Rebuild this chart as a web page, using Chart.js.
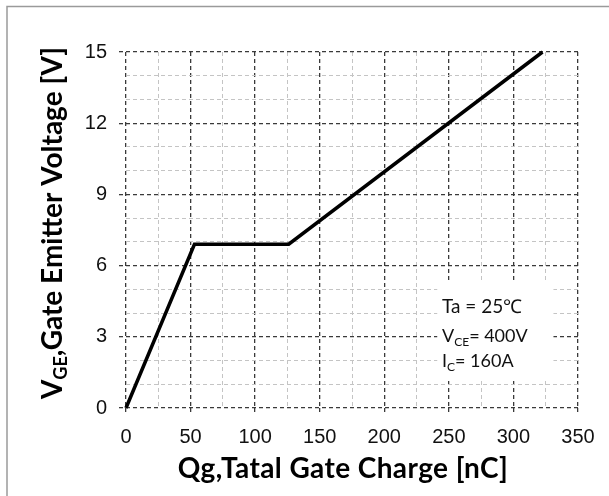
<!DOCTYPE html>
<html>
<head>
<meta charset="utf-8">
<script src="https://cdn.jsdelivr.net/npm/chart.js@4"></script>
<style>
html,body{margin:0;padding:0;background:#fff;}
#wrap{position:relative;width:609px;height:496px;}
</style>
</head>
<body>
<div id="wrap"><canvas id="c" width="609" height="496"></canvas></div>
<script>
// Gate charge curve (nC, V)
const chargeNC = [0, 53, 126, 322.5];
const gateVoltage = [0, 6.9, 6.9, 15];
const xTickLabels = [0, 50, 100, 150, 200, 250, 300, 350];
const yTickLabels = [0, 3, 6, 9, 12, 15];
const conditions = ["Ta = 25\u2103", "V|CE|= 400V", "I|C|= 160A"];
const xTitle = "Qg,Tatal Gate Charge [nC]";
const yTitleParts = ["V", "GE", ",Gate Emitter Voltage [V]"];

const points = chargeNC.map((x, i) => ({x: x, y: gateVoltage[i]}));

const titleFont = "bold 28px Lato";
const tickFont = {family: "'Liberation Sans', Arial", size: 20};

const decor = {
  id: 'decor',
  beforeDraw(chart) {
    const ctx = chart.ctx;
    ctx.save();
    ctx.fillStyle = '#fff';
    ctx.fillRect(0, 0, chart.width, chart.height);
    ctx.strokeStyle = '#9a9a9a';
    ctx.lineWidth = 1.5;
    ctx.beginPath();
    ctx.moveTo(7, chart.height);
    ctx.lineTo(7, 6.5);
    ctx.lineTo(chart.width, 6.5);
    ctx.stroke();
    ctx.restore();
  },
  beforeDatasetsDraw(chart) {
    const ctx = chart.ctx;
    const xs = chart.scales.x, ys = chart.scales.y;
    // white box behind conditions
    const bx0 = xs.getPixelForValue(241), bx1 = xs.getPixelForValue(331);
    const by0 = ys.getPixelForValue(5.3), by1 = ys.getPixelForValue(1.2);
    ctx.save();
    ctx.fillStyle = '#fff';
    ctx.fillRect(bx0, by0, bx1 - bx0, by1 - by0);
    ctx.restore();
  },
  afterDraw(chart) {
    const ctx = chart.ctx;
    const ys = chart.scales.y;
    ctx.save();
    ctx.fillStyle = '#111';
    // conditions text
    const mainF = "18px Lato", subF = "12px Lato";
    const lx = 442;
    const baselines = [313, 342, 367];
    ctx.textBaseline = 'alphabetic';
    ctx.textAlign = 'left';
    conditions.forEach((s, i) => {
      const parts = s.split('|');
      let x = lx;
      parts.forEach((p, j) => {
        const sub = j % 2 === 1;
        ctx.font = (i === 0) ? "19px Lato" : (sub ? subF : mainF);
        ctx.fillText(p, x, baselines[i] + (sub ? 4 : 0));
        x += ctx.measureText(p).width;
      });
    });
    // x title
    ctx.font = titleFont;
    ctx.letterSpacing = '0.4px';
    ctx.textAlign = 'center';
    ctx.fillStyle = '#000';
    ctx.fillText(xTitle, 343, 478);
    ctx.letterSpacing = '0px';
    // y title rotated with subscript
    ctx.save();
    ctx.translate(62, (ys.top + ys.bottom) / 2 - 7);
    ctx.rotate(-Math.PI / 2);
    ctx.textAlign = 'left';
    const subTitleF = "bold 18px Lato";
    ctx.font = titleFont;
    const w0 = ctx.measureText(yTitleParts[0]).width;
    ctx.font = subTitleF;
    const w1 = ctx.measureText(yTitleParts[1]).width;
    ctx.font = titleFont;
    const w2 = ctx.measureText(yTitleParts[2]).width;
    let x = -(w0 + w1 + w2) / 2;
    ctx.font = titleFont; ctx.fillText(yTitleParts[0], x, 0); x += w0;
    ctx.font = subTitleF; ctx.fillText(yTitleParts[1], x, 5); x += w1;
    ctx.font = titleFont; ctx.fillText(yTitleParts[2], x, 0);
    ctx.restore();
    ctx.restore();
  }
};

const majorX = v => xTickLabels.includes(v);
const majorY = v => yTickLabels.includes(v);

new Chart(document.getElementById('c'), {
  type: 'scatter',
  data: {
    datasets: [{
      data: points,
      showLine: true,
      borderColor: '#000',
      borderWidth: 3.5,
      pointRadius: 0,
      tension: 0,
      clip: false
    }]
  },
  options: {
    responsive: false,
    animation: false,
    events: [],
    layout: {padding: {left: 0, top: 52, right: 31, bottom: 0}},
    plugins: {legend: {display: false}, tooltip: {enabled: false}},
    scales: {
      x: {
        type: 'linear', min: 0, max: 350,
        afterFit(s) { s.height = 88; },
        ticks: {
          stepSize: 25, autoSkip: false, maxRotation: 0,
          padding: 12, color: '#111', font: tickFont,
          callback: v => majorX(v) ? String(v) : ''
        },
        grid: {
          color: c => majorX(c.tick.value) ? '#3a3a3a' : '#c4c4c4',
          lineWidth: c => majorX(c.tick.value) ? 1.3 : 1,
          tickColor: c => majorX(c.tick.value) ? '#3a3a3a' : 'rgba(0,0,0,0)',
          tickLength: 5,
          tickBorderDash: [4, 3]
        },
        border: {display: false, dash: [4, 3]}
      },
      y: {
        type: 'linear', min: 0, max: 15,
        afterFit(s) { s.width = 126; },
        ticks: {
          stepSize: 1, autoSkip: false,
          padding: 12, color: '#111', font: tickFont,
          callback: v => majorY(v) ? String(v) : ''
        },
        grid: {
          color: c => majorY(c.tick.value) ? '#3a3a3a' : '#c4c4c4',
          lineWidth: c => majorY(c.tick.value) ? 1.3 : 1,
          tickColor: c => majorY(c.tick.value) ? '#3a3a3a' : 'rgba(0,0,0,0)',
          tickLength: 7,
          tickBorderDash: [4, 3]
        },
        border: {display: false, dash: [4, 3]}
      }
    }
  },
  plugins: [decor]
});
</script>
</body>
</html>
